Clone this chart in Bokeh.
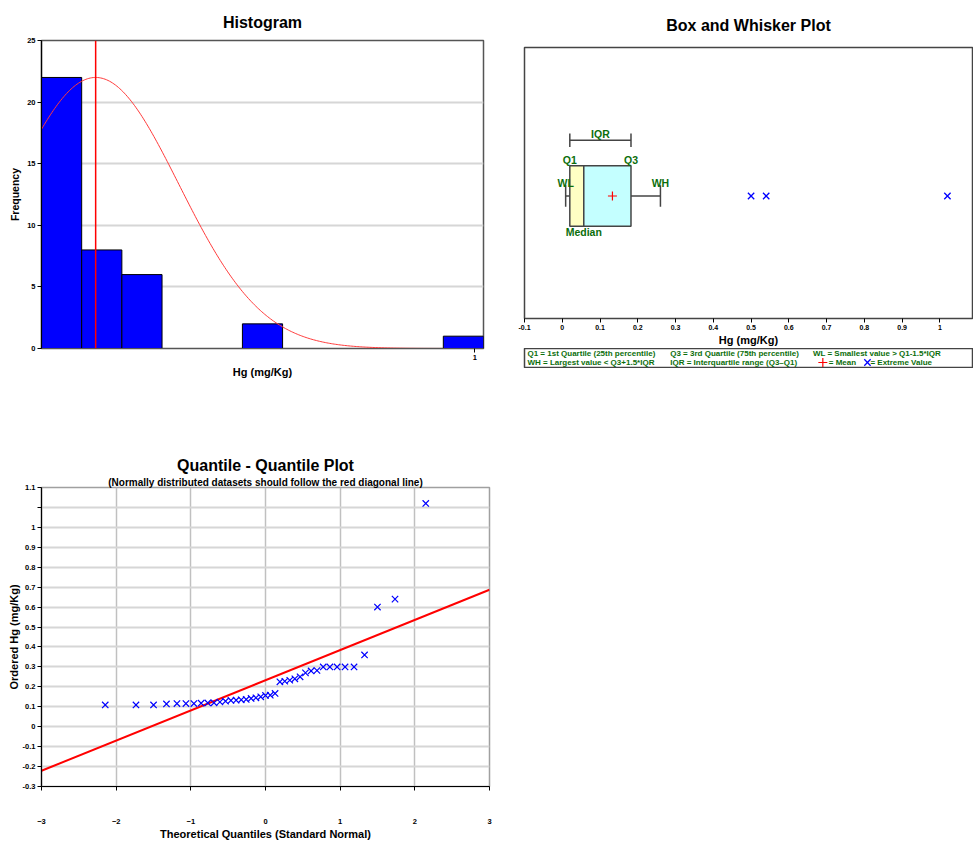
import numpy as np
from math import erf, sqrt
from bokeh.plotting import figure
from bokeh.models import Range1d, FixedTicker, Span, Title
from bokeh.layouts import row, column
from bokeh.embed import file_html
from bokeh.resources import INLINE
from bokeh.core.properties import value

# ---------------- data ----------------
hg_values = [0.009, 0.009, 0.009, 0.014, 0.016, 0.016, 0.016, 0.018, 0.019, 0.020,
             0.024, 0.028, 0.032, 0.033, 0.035, 0.037, 0.042, 0.045, 0.050, 0.057,
             0.058, 0.067, 0.125, 0.128, 0.133, 0.140, 0.150, 0.170, 0.180, 0.182,
             0.200, 0.200, 0.200, 0.200, 0.200, 0.260, 0.500, 0.540, 1.020]
n_bins = 11

hist_y_ticks = [0, 5, 10, 15, 20, 25]
hist_x_ticks = [1]
box_x_ticks = [-0.1, 0.0, 0.1, 0.2, 0.3, 0.4, 0.5, 0.6, 0.7, 0.8, 0.9, 1.0]
box_x_tick_labels = ["-0.1", "0", "0.1", "0.2", "0.3", "0.4", "0.5", "0.6", "0.7", "0.8", "0.9", "1"]
qq_x_ticks = [-3, -2, -1, 0, 1, 2, 3]
qq_y_ticks = [1.1, 1.0, 0.9, 0.8, 0.7, 0.6, 0.5, 0.4, 0.3, 0.2, 0.1, 0.0, -0.1, -0.2, -0.3, -0.4]
qq_y_tick_labels = ["1.1", "", "1", "0.9", "0.8", "0.7", "0.6", "0.5", "0.4", "0.3", "0.2",
                    "0.1", "0", "-0.1", "-0.2", "-0.3"]

legend_row1 = ["Q1 = 1st Quartile (25th percentile)", "Q3 = 3rd Quartile (75th percentile)",
               "WL = Smallest value > Q1-1.5*IQR"]
legend_row2 = ["WH = Largest value < Q3+1.5*IQR", "IQR = Interquartile range (Q3\u2013Q1)"]
legend_mean = "= Mean"
legend_extreme = "= Extreme Value"

# ---------------- styles / layout constants ----------------
FONT = "Liberation Sans"
GREEN = "#0b6e0b"
AXIS_LABEL_SIZE = "11px"
TICK_SIZE = "7.5px"


def fmt_key(v):
    return f"{v:g}"


def norm_ppf(p):
    lo, hi = -10.0, 10.0
    for _ in range(200):
        mid = 0.5 * (lo + hi)
        if 0.5 * (1 + erf(mid / sqrt(2))) < p:
            lo = mid
        else:
            hi = mid
    return 0.5 * (lo + hi)


def style_axis(ax):
    ax.major_label_text_font = FONT
    ax.major_label_text_font_style = "bold"
    ax.major_label_text_font_size = TICK_SIZE
    ax.major_label_text_color = "black"
    ax.axis_label_text_font = FONT
    ax.axis_label_text_font_style = "bold"
    ax.axis_label_text_font_size = AXIS_LABEL_SIZE
    ax.axis_label_text_color = "black"
    ax.minor_tick_line_color = None
    ax.major_tick_in = 0
    ax.major_tick_out = 4
    ax.axis_line_color = "black"
    ax.axis_line_width = 1.2
    ax.major_tick_line_color = "black"
    ax.major_label_standoff = 2
    ax.axis_label_standoff = 3


def style_title(t, size="16px", standoff=10):
    t.text_font = FONT
    t.text_font_style = "bold"
    t.text_font_size = size
    t.align = "center"
    t.standoff = standoff
    t.text_color = "black"


# ---------------- statistics ----------------
hg = np.sort(np.array(hg_values, dtype=float))
n = len(hg)
mean = hg.mean()
sd = hg.std(ddof=1)

counts, edges = np.histogram(hg, bins=n_bins, range=(hg.min(), hg.max()))
xs = np.linspace(hg.min(), hg.max(), 300)
curve = counts.max() * np.exp(-0.5 * ((xs - mean) / sd) ** 2)

q1, med, q3 = np.percentile(hg, [25, 50, 75], method="weibull")
iqr = q3 - q1
lo_fence, hi_fence = q1 - 1.5 * iqr, q3 + 1.5 * iqr
wl = hg[hg >= lo_fence].min()
wh = hg[hg <= hi_fence].max()
extremes = hg[(hg < lo_fence) | (hg > hi_fence)]

pp = (np.arange(1, n + 1) - 0.375) / (n + 0.25)
zq = np.array([norm_ppf(v) for v in pp])
slope, intercept = np.polyfit(zq, hg, 1)

# ---------------- histogram ----------------
hist = figure(width=500, height=380, x_range=Range1d(hg.min(), hg.max()), y_range=Range1d(0, 25),
              output_backend="svg", toolbar_location=None,
              min_border_left=41, min_border_right=17, min_border_top=40, min_border_bottom=30)
hist.title.text = "Histogram"
style_title(hist.title, standoff=20)
hist.quad(left=edges[:-1], right=edges[1:], bottom=0, top=counts,
          fill_color="#0000ff", line_color="black", line_width=1)
hist.line(xs, curve, line_color="#ff3b3b", line_width=1)
hist.add_layout(Span(location=mean, dimension="height", line_color="#ff0000", line_width=1.5))
hist.xaxis.ticker = FixedTicker(ticks=hist_x_ticks)
hist.yaxis.ticker = FixedTicker(ticks=hist_y_ticks)
hist.xaxis.axis_label = "Hg (mg/Kg)"
hist.yaxis.axis_label = "Frequency"
for ax in hist.axis:
    style_axis(ax)
hist.xaxis.axis_line_color = "#555555"
hist.yaxis.axis_label_text_font_size = "10.5px"
hist.yaxis.axis_label_standoff = 3
hist.xgrid.visible = False
hist.ygrid.ticker = FixedTicker(ticks=hist_y_ticks)
hist.ygrid.grid_line_color = "#d6d6d6"
hist.ygrid.grid_line_width = 2
hist.outline_line_color = "#555555"
hist.outline_line_width = 1.5

# ---------------- box and whisker ----------------
BOX_Y = 0.452
BOX_H = 0.224
CAP_H = 0.04
IQR_Y = 0.658
IQR_CAP = 0.05

box = figure(width=473, height=348, x_range=Range1d(-0.1, 1.0864), y_range=Range1d(0, 1),
             output_backend="svg", toolbar_location=None, y_axis_location=None,
             min_border_left=24, min_border_right=1, min_border_top=47, min_border_bottom=29)
box.title.text = "Box and Whisker Plot"
style_title(box.title, standoff=28)
box.title.offset = 4
box.grid.visible = False
box.outline_line_color = "#444444"
box.outline_line_width = 1.5
box.xaxis.ticker = FixedTicker(ticks=box_x_ticks)
box.xaxis.major_label_overrides = {**{t: l for t, l in zip(box_x_ticks, box_x_tick_labels)},
                                   **{fmt_key(t): l for t, l in zip(box_x_ticks, box_x_tick_labels)}}
box.xaxis.axis_label = "Hg (mg/Kg)"
style_axis(box.xaxis)
box.xaxis.major_label_text_font_size = "7px"
box.xaxis.axis_label_standoff = 1
box.xaxis.axis_line_color = "#444444"

WHISK = "#444444"
box.quad(left=[q1], right=[med], bottom=[BOX_Y - BOX_H / 2], top=[BOX_Y + BOX_H / 2],
         fill_color="#ffffc4", line_color=WHISK, line_width=1.5)
box.quad(left=[med], right=[q3], bottom=[BOX_Y - BOX_H / 2], top=[BOX_Y + BOX_H / 2],
         fill_color="#c4ffff", line_color=WHISK, line_width=1.5)
box.segment(x0=[wl, q3], y0=[BOX_Y, BOX_Y], x1=[q1, wh], y1=[BOX_Y, BOX_Y],
            line_color=WHISK, line_width=1.5)
box.segment(x0=[wl, wh], y0=[BOX_Y - CAP_H] * 2, x1=[wl, wh], y1=[BOX_Y + CAP_H] * 2,
            line_color=WHISK, line_width=1.5)
box.segment(x0=[q1], y0=[IQR_Y], x1=[q3], y1=[IQR_Y], line_color=WHISK, line_width=1.5)
box.segment(x0=[q1, q3], y0=[IQR_Y - IQR_CAP / 2] * 2, x1=[q1, q3], y1=[IQR_Y + IQR_CAP / 2] * 2,
            line_color=WHISK, line_width=1.5)
box.scatter([mean], [BOX_Y], marker="cross", size=9, line_color="#ff0000", line_width=1.2)
box.scatter(extremes, [BOX_Y] * len(extremes), marker="x", size=9, line_color="#0000ff", line_width=1.3)

lab_kw = dict(text_font=value(FONT), text_font_style="bold", text_font_size="10.5px",
              text_color=GREEN, text_align="center")
box.text(x=[(q1 + q3) / 2], y=[IQR_Y], text=["IQR"], text_baseline="bottom", y_offset=0, **lab_kw)
box.text(x=[q1, q3], y=[BOX_Y + BOX_H / 2] * 2, text=["Q1", "Q3"], text_baseline="bottom",
         y_offset=0, **lab_kw)
box.text(x=[wl, wh], y=[BOX_Y + CAP_H] * 2, text=["WL", "WH"], text_baseline="bottom",
         y_offset=4, **lab_kw)
box.text(x=[med], y=[BOX_Y - BOX_H / 2], text=["Median"], text_baseline="top", y_offset=0, **lab_kw)

# ---------------- legend strip ----------------
leg = figure(width=473, height=20, x_range=Range1d(0, 452), y_range=Range1d(0, 20),
             output_backend="svg", toolbar_location=None, x_axis_location=None, y_axis_location=None,
             min_border_left=20, min_border_right=1, min_border_top=0, min_border_bottom=0)
leg.grid.visible = False
leg.outline_line_color = "#444444"
leg.outline_line_width = 1.5
LEG_COLS = [3, 147, 291]
LEG_Y1, LEG_Y2 = 15, 6
leg_kw = dict(text_font=value(FONT), text_font_style="bold", text_font_size="8px",
              text_color=GREEN, text_align="left", text_baseline="middle")
leg.text(x=LEG_COLS, y=[LEG_Y1] * 3, text=legend_row1, **leg_kw)
leg.text(x=LEG_COLS[:2], y=[LEG_Y2] * 2, text=legend_row2, **leg_kw)
leg.scatter([301], [LEG_Y2], marker="cross", size=9, line_color="#ff0000", line_width=1.2)
leg.text(x=[307], y=[LEG_Y2], text=[legend_mean], **leg_kw)
leg.scatter([346], [LEG_Y2], marker="x", size=9, line_color="#0000ff", line_width=1.3)
leg.text(x=[349], y=[LEG_Y2], text=[legend_extreme], **leg_kw)

# ---------------- Q-Q plot ----------------
qq = figure(width=500, height=462, x_range=Range1d(-3, 3), y_range=Range1d(-0.4, 1.1),
            output_backend="svg", toolbar_location=None,
            min_border_left=41, min_border_right=11, min_border_top=107, min_border_bottom=55)
qq.title.text = "Quantile - Quantile Plot"
style_title(qq.title, standoff=1)
sub = Title(text="(Normally distributed datasets should follow the red diagonal line)")
style_title(sub, size="10px", standoff=0)
qq.add_layout(sub, "above")

qq.xaxis.ticker = FixedTicker(ticks=qq_x_ticks)
qq.yaxis.ticker = FixedTicker(ticks=qq_y_ticks)
qq.yaxis.major_label_overrides = {**{t: l for t, l in zip(qq_y_ticks, qq_y_tick_labels)},
                                  **{fmt_key(t): l for t, l in zip(qq_y_ticks, qq_y_tick_labels)}}
qq.xaxis.axis_label = "Theoretical Quantiles (Standard Normal)"
qq.yaxis.axis_label = "Ordered Hg (mg/Kg)"
for ax in qq.axis:
    style_axis(ax)
qq.xaxis.major_label_standoff = 28
qq.xaxis.axis_label_standoff = 1
qq.yaxis.axis_label_standoff = 0
qq.xgrid.ticker = FixedTicker(ticks=qq_x_ticks)
qq.ygrid.ticker = FixedTicker(ticks=qq_y_ticks)
qq.xgrid.grid_line_color = "#c0c0c0"
qq.xgrid.grid_line_width = 1.5
qq.ygrid.grid_line_color = "#d6d6d6"
qq.ygrid.grid_line_width = 2
qq.outline_line_color = "#a0a0a0"
qq.outline_line_width = 1.5

xr = np.array([qq.x_range.start, qq.x_range.end])
qq.line(xr, intercept + slope * xr, line_color="#ff0000", line_width=2)
qq.scatter(zq, hg, marker="x", size=9, line_color="#0000ff", line_width=1.2)

layout = column(row(hist, column(box, leg)), qq)

open("out.html", "w").write(file_html(layout, INLINE))
